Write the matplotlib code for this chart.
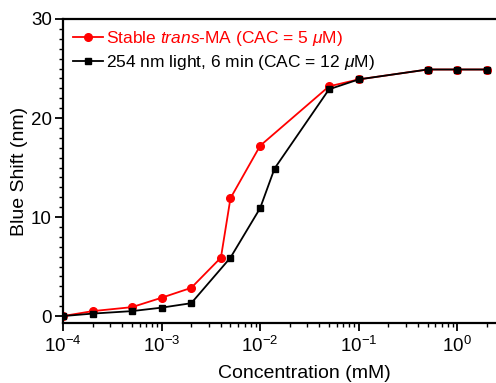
import matplotlib
matplotlib.use('Agg')
import matplotlib.pyplot as plt
from matplotlib.ticker import LogLocator, MultipleLocator, NullFormatter

plt.rcParams['font.family'] = ['Liberation Sans', 'DejaVu Sans']
plt.rcParams['mathtext.fontset'] = 'custom'
plt.rcParams['mathtext.rm'] = 'Liberation Sans'
plt.rcParams['mathtext.it'] = 'Liberation Sans:italic'

# concentration (mM)
conc_stable = [1e-4, 2e-4, 5e-4, 1e-3, 2e-3, 4e-3, 5e-3, 1e-2, 5e-2, 1e-1, 5e-1, 1.0, 2.0]
shift_stable = [0.0, 0.5, 0.9, 1.85, 2.85, 5.9, 11.9, 17.2, 23.2, 23.9, 24.9, 24.9, 24.9]

conc_uv = [1e-4, 2e-4, 5e-4, 1e-3, 2e-3, 5e-3, 1e-2, 1.4e-2, 5e-2, 1e-1, 5e-1, 1.0, 2.0]
shift_uv = [0.0, 0.25, 0.5, 0.85, 1.3, 5.9, 10.9, 14.9, 22.9, 23.9, 24.9, 24.9, 24.9]

label_stable = r'Stable $trans$-MA (CAC = 5 $\mu$M)'
label_uv = r'254 nm light, 6 min (CAC = 12 $\mu$M)'

fig = plt.figure(figsize=(4.96, 3.83), dpi=100)
ax = fig.add_axes([63 / 496, (383 - 323) / 383, 483 / 496, (323 - 19) / 383])

ax.plot(conc_stable, shift_stable, '-o', color='red', lw=1.3, ms=5.5, label=label_stable)
ax.plot(conc_uv, shift_uv, '-s', color='black', lw=1.3, ms=4.8, label=label_uv)

ax.set_xscale('log')
ax.set_xlim(1e-4, 10 ** 0.9)
ax.set_ylim(-0.7, 30)
ax.yaxis.set_major_locator(MultipleLocator(10))
ax.yaxis.set_minor_locator(MultipleLocator(1))
ax.xaxis.set_major_locator(LogLocator(base=10, numticks=10))
ax.xaxis.set_minor_locator(LogLocator(base=10, subs=range(2, 10), numticks=50))
ax.xaxis.set_minor_formatter(NullFormatter())

ax.tick_params(axis='both', which='major', labelsize=13.5, width=1.3, length=6, direction='out')
ax.tick_params(axis='y', which='major', pad=2)
ax.tick_params(axis='both', which='minor', width=1, length=3, direction='out')
for s in ['left', 'bottom', 'top']:
    ax.spines[s].set_linewidth(1.6)
ax.spines['right'].set_visible(False)

ax.set_xlabel('Concentration (mM)', fontsize=14, labelpad=6)
ax.set_ylabel('Blue Shift (nm)', fontsize=14, labelpad=2)

leg = ax.legend(loc='upper left', frameon=False, fontsize=12.5, handlelength=1.7,
                handletextpad=0.15, borderaxespad=0.2, labelspacing=0.25)
leg.get_texts()[0].set_color('red')

fig.savefig('out.png', dpi=100)
